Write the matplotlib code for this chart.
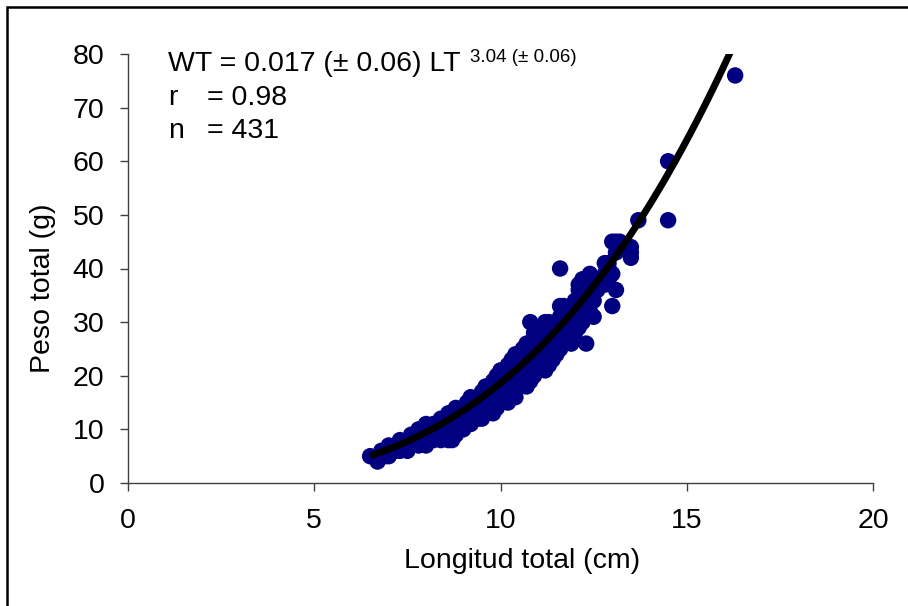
import numpy as np
import matplotlib
matplotlib.use("Agg")
import matplotlib.pyplot as plt
from matplotlib.patches import Rectangle

plt.rcParams['font.family'] = ['Liberation Sans', 'DejaVu Sans']

# ── Datos (LT en cm, WT en g) ────────────────────────────────────────────────
lt_cols = [6.5, 6.7, 6.8, 6.9, 7.0, 7.2, 7.3, 7.5, 7.6, 7.8, 8.0, 8.1, 8.2,
           8.4, 8.5, 8.6, 8.7, 8.8, 9.0, 9.1, 9.2, 9.4, 9.5, 9.6, 9.8, 9.9,
           10.0, 10.2, 10.3, 10.4, 10.5, 10.6, 10.7, 10.8, 10.9, 11.0, 11.1,
           11.2, 11.3, 11.4, 11.5, 11.6, 11.7, 11.8, 11.9, 12.0, 12.1, 12.2,
           12.3, 12.4, 12.5, 12.6, 12.8, 12.9, 13.0, 13.1, 13.2, 13.5, 13.7,
           14.5, 16.3]
wt_cols = [[5], [4, 5], [5, 6], [5, 6], [5, 6, 7], [6, 7], [6, 7, 8],
           [6, 7, 8], [7, 8, 9], [7, 8, 9, 10], [7, 8, 9, 10, 11], [8, 9, 10],
           [8, 9, 10, 11], [8, 9, 10, 11, 12], [9, 10, 11, 12],
           [8, 10, 11, 12, 13], [8, 10, 12], [9, 10, 11, 12, 13, 14],
           [10, 11, 12, 13, 14], [11, 12, 14, 15], [11, 12, 13, 15, 16],
           [12, 13, 14, 15, 16], [12, 14, 15, 16, 17], [13, 14, 15, 17, 18],
           [13, 14, 16, 18, 19], [14, 15, 17, 19, 20], [15, 16, 18, 20, 21],
           [15, 17, 19, 21, 22], [16, 18, 20, 22, 23], [16, 17, 19, 21, 23, 24],
           [18, 20, 22, 24], [19, 21, 23, 25], [18, 20, 22, 24, 26],
           [19, 21, 23, 25, 30], [20, 22, 24, 26, 28], [21, 23, 25, 27, 28],
           [22, 24, 26, 28], [21, 23, 25, 27, 29, 30], [22, 24, 26, 28, 30],
           [23, 25, 27, 29], [24, 26, 28, 30], [25, 27, 29, 31, 33, 40],
           [26, 28, 30, 33], [27, 29, 31, 32], [26, 28, 30, 33],
           [28, 30, 32, 34], [29, 31, 33, 36, 37], [30, 32, 35, 38],
           [26, 31, 34, 36, 38], [32, 35, 37, 39], [31, 34, 37, 38], [36, 38],
           [37, 39, 41], [38, 40, 41], [33, 39, 45], [36, 43, 45], [45],
           [42, 43, 44], [49], [49, 60], [76]]

lt = np.array([x for x, ys in zip(lt_cols, wt_cols) for _ in ys])
wt = np.array([y for ys in wt_cols for y in ys])

# parámetros del ajuste WT = a * LT^b
a, b = 0.017, 3.04
lt_fit_min, lt_fit_max = 6.5, 16.6

FS = 20.5

# ── Figura ────────────────────────────────────────────────────────────────────
fig = plt.figure(figsize=(9.08, 6.06), dpi=100)
fig.patch.set_facecolor("white")
ax = fig.add_axes([128/908, 1 - 483/606, 745/908, 429/606])

ax.scatter(lt, wt, s=140, color="#000080", edgecolors="none", zorder=2)
xf = np.linspace(lt_fit_min, lt_fit_max, 200)
ax.plot(xf, a * xf**b, color="black", lw=5, zorder=3, solid_capstyle="butt")

ax.set_xlim(0, 20)
ax.set_ylim(0, 80)
ax.set_xticks([0, 5, 10, 15, 20])
ax.set_yticks(np.arange(0, 81, 10))
ax.tick_params(labelsize=FS, length=6, width=1, direction="out",
               color="#404040")
ax.tick_params(axis="x", pad=12)
ax.tick_params(axis="y", pad=11)
for sp in ["top", "right"]:
    ax.spines[sp].set_visible(False)
for sp in ["left", "bottom"]:
    ax.spines[sp].set_color("#404040")
    ax.spines[sp].set_linewidth(1)

ax.set_xlabel("Longitud total (cm)", fontsize=FS)
ax.set_ylabel("Peso total (g)", fontsize=FS)
ax.xaxis.set_label_coords(394/745, -0.152)
ax.yaxis.set_label_coords(-0.096, 0.455)

# ── Ecuación ─────────────────────────────────────────────────────────────────
t1 = fig.text(168/908, 1 - 64/606, "WT = 0.017 (± 0.06) LT", fontsize=FS,
              va="center", ha="left")
fig.canvas.draw()
bb = t1.get_window_extent()
fig.text((bb.x1 + 9) / 908, 1 - 57/606, "3.04 (± 0.06)", fontsize=13.5,
         va="center", ha="left")
fig.text(168/908, 1 - 98/606, "r", fontsize=FS, va="center", ha="left")
fig.text(207/908, 1 - 98/606, "= 0.98", fontsize=FS, va="center", ha="left")
fig.text(168/908, 1 - 131/606, "n", fontsize=FS, va="center", ha="left")
fig.text(207/908, 1 - 131/606, "= 431", fontsize=FS, va="center", ha="left")

# borde del área del gráfico
fig.patches.append(Rectangle((7/908, -0.1), 1.2, 1.1 - 7/606, fill=False,
                             lw=1.8, edgecolor="black",
                             transform=fig.transFigure, figure=fig))

fig.savefig("out.png", dpi=100, facecolor="white")
